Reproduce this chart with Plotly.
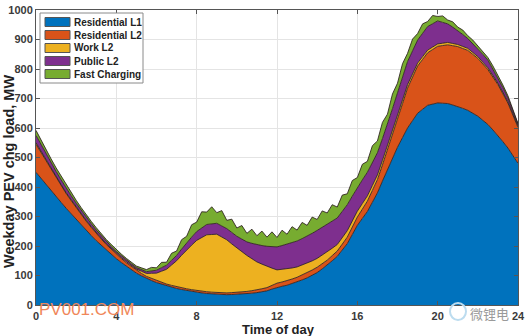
import plotly.graph_objects as go

# Half-hour time grid (hours) for the smooth layers
hours = [i * 0.5 for i in range(49)]
# Quarter-hour grid for the fast-charging layer
hours_q = [i * 0.25 for i in range(97)]

residential_l1 = [450, 408, 368, 328, 290, 253, 218, 186, 157, 131,
                  108, 90, 76, 65, 56, 49, 43, 39, 36, 35,
                  36, 38, 42, 48, 60, 67, 78, 92, 110, 135,
                  165, 208, 270, 317, 380, 460, 535, 600, 650, 677,
                  685, 683, 673, 660, 640, 612, 575, 532, 480]

residential_l2 = [95, 80, 64, 50, 40, 31, 24, 19, 15, 12,
                  9, 7, 7, 6, 6, 6, 6, 6, 6, 6,
                  7, 8, 9, 11, 14, 15, 16, 17, 18, 17,
                  18, 22, 28, 35, 45, 65, 95, 135, 160, 178,
                  192, 199, 203, 203, 196, 186, 172, 152, 122]

work_l2 = [5, 4, 4, 3, 3, 3, 3, 3, 3, 4,
           5, 10, 25, 50, 88, 132, 170, 193, 198, 180,
           150, 122, 95, 72, 45, 40, 35, 32, 30, 28,
           22, 22, 20, 18, 16, 15, 14, 12, 10, 9,
           8, 8, 7, 7, 6, 6, 5, 5, 5]

public_l2 = [25, 20, 17, 15, 12, 10, 9, 7, 6, 5,
             5, 6, 10, 14, 18, 24, 30, 35, 37, 38,
             40, 46, 58, 68, 78, 84, 88, 92, 95, 95,
             90, 88, 80, 80, 75, 72, 75, 78, 78, 80,
             78, 63, 48, 33, 27, 26, 19, 13, 6]

fast_charging = [17, 15, 13, 13, 12, 12, 12, 11, 10, 9,
                 8, 8, 8, 7, 7, 7, 7, 6, 6, 6,
                 5, 6, 7, 12, 8, 18, 10, 24, 15, 32,
                 22, 42, 32, 55, 42, 58, 36, 52, 28, 45,
                 28, 46, 29, 48, 31, 49, 31, 50, 32, 52,
                 34, 54, 37, 55, 37, 55, 37, 55, 37, 55,
                 37, 55, 37, 53, 34, 53, 37, 57, 40, 55,
                 35, 50, 33, 46, 28, 40, 22, 32, 17, 28,
                 15, 22, 13, 18, 11, 15, 10, 12, 10, 11,
                 9, 10, 8, 9, 7, 5, 2]

series = [
    ("Residential L1", hours, residential_l1, "#0072BD"),
    ("Residential L2", hours, residential_l2, "#D95319"),
    ("Work L2", hours, work_l2, "#EDB120"),
    ("Public L2", hours, public_l2, "#7E2F8E"),
    ("Fast Charging", hours_q, fast_charging, "#77AC30"),
]

x_ticks = [0, 4, 8, 12, 16, 20, 24]
y_ticks = [0, 100, 200, 300, 400, 500, 600, 700, 800, 900, 1000]

FONT = "Liberation Sans, Arial, sans-serif"
EDGE = "rgba(45,30,30,0.85)"

fig = go.Figure()
for name, xs, ys, color in series:
    fig.add_trace(go.Scatter(
        x=xs, y=ys, name=name, mode="lines",
        stackgroup="load", stackgaps="interpolate",
        fillcolor=color,
        line=dict(color=EDGE, width=1),
        showlegend=False,
    ))

axis_font = dict(family=FONT, size=11, color="#3a3a3a", weight="bold")
title_font = dict(family=FONT, color="#222", weight="bold")

fig.update_layout(
    width=528, height=336,
    margin=dict(l=36, r=10, t=10, b=31),
    paper_bgcolor="white", plot_bgcolor="white",
    showlegend=False,
    xaxis=dict(
        range=[0, 24], tickvals=x_ticks, ticktext=[str(v) for v in x_ticks],
        showgrid=True, gridcolor="#e4e4e4", gridwidth=1,
        ticks="inside", ticklen=4, tickcolor="#555",
        showline=True, linecolor="#555", linewidth=1, mirror="ticks",
        tickfont=axis_font, zeroline=False, automargin=False,
        ticklabelstandoff=1,
    ),
    yaxis=dict(
        range=[0, 1000], tickvals=y_ticks, ticktext=[str(v) for v in y_ticks],
        showgrid=True, gridcolor="#e4e4e4", gridwidth=1,
        ticks="inside", ticklen=4, tickcolor="#555",
        showline=True, linecolor="#555", linewidth=1, mirror="ticks",
        tickfont=axis_font, zeroline=False, automargin=False,
    ),
)

def px_x(px):
    return (px - 36) / 482.0

def px_y(py):
    return (305 - py) / 295.0

# Axis titles
fig.add_annotation(x=px_x(278), y=px_y(329), xref="paper", yref="paper",
                   xanchor="center", yanchor="middle", showarrow=False,
                   text="Time of day", font=dict(size=13, **title_font))
fig.add_annotation(x=px_x(9), y=px_y(172), xref="paper", yref="paper",
                   xanchor="center", yanchor="middle", showarrow=False,
                   textangle=-90, text="Weekday PEV chg load, MW",
                   font=dict(size=14.5, **title_font))

# Compact legend box in the upper-left corner of the axes
fig.add_shape(type="rect", xref="paper", yref="paper",
              x0=px_x(40), x1=px_x(143), y0=px_y(83), y1=px_y(13),
              line=dict(color="#8a8a8a", width=1), fillcolor="white")
row_centers = [22, 35, 48, 61, 74]
for (name, _, _, color), cy in zip(series, row_centers):
    fig.add_shape(type="rect", xref="paper", yref="paper",
                  x0=px_x(45), x1=px_x(70), y0=px_y(cy + 4.5), y1=px_y(cy - 4.5),
                  line=dict(color="#555", width=1), fillcolor=color)
    fig.add_annotation(x=px_x(72), y=px_y(cy), xref="paper", yref="paper",
                       xanchor="left", yanchor="middle", showarrow=False,
                       text=name,
                       font=dict(family=FONT, size=10, color="#222", weight="bold"))

# Site marks in the lower corners
fig.add_annotation(
    x=px_x(37), y=px_y(309), xref="paper", yref="paper",
    xanchor="left", yanchor="middle", showarrow=False, text="PV001.COM",
    font=dict(family=FONT, size=17, color="#F0875A"),
)
fig.add_annotation(
    x=px_x(511), y=px_y(313), xref="paper", yref="paper",
    xanchor="right", yanchor="middle", showarrow=False, text="微锂电",
    font=dict(family="Noto Sans CJK SC", size=13, color="#9a9a9a"),
)
fig.add_shape(
    type="circle", xref="paper", yref="paper",
    x0=px_x(450), x1=px_x(466), y0=px_y(320), y1=px_y(303),
    line=dict(color="#bcdcef", width=2), fillcolor="rgba(255,255,255,0)",
)

fig.write_html("out.html")
